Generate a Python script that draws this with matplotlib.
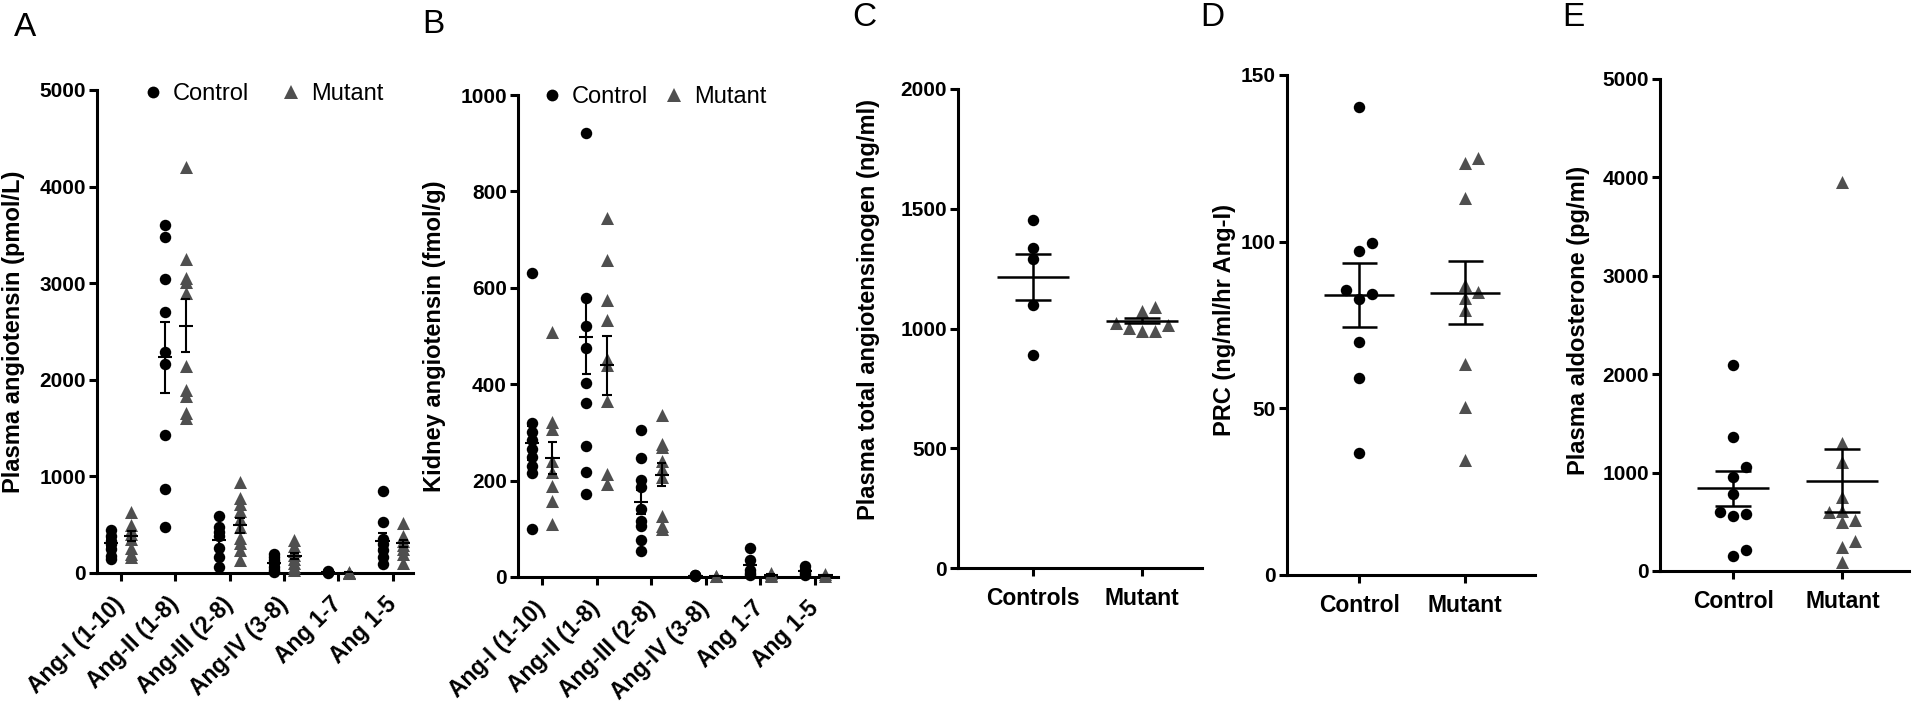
import numpy as np
import matplotlib
matplotlib.use("Agg")
import matplotlib.pyplot as plt
from matplotlib.lines import Line2D

plt.rcParams['font.family'] = ['Liberation Sans', 'DejaVu Sans']

# ---------------- data ----------------
groups_ab = ["Ang-I (1-10)", "Ang-II (1-8)", "Ang-III (2-8)", "Ang-IV (3-8)", "Ang 1-7", "Ang 1-5"]

a_control = [
    [450, 380, 330, 300, 250, 180, 150],
    [3603, 3483, 3045, 2700, 2283, 2166, 1424, 869, 476],
    [590, 480, 420, 380, 260, 170, 60],
    [200, 170, 130, 100, 60, 30, 10],
    [20, 10, 5, 15],
    [850, 530, 350, 300, 240, 170, 90],
]
a_mutant = [
    [630, 500, 450, 400, 350, 260, 200, 170],
    [4200, 3248, 3052, 3017, 2897, 2145, 1897, 1828, 1655, 1603],
    [937, 781, 712, 642, 556, 479, 365, 312, 243, 139],
    [340, 280, 230, 190, 150, 100, 60, 30],
    [5, 10, 3],
    [520, 380, 330, 290, 250, 200, 100],
]
a_control_mean = [310, 2231, 340, 100, 10, 330]
a_control_sem = [40, 367, 70, 25, 3, 80]
a_mutant_mean = [382, 2562, 493, 174, 5, 306]
a_mutant_sem = [50, 270, 80, 30, 2, 40]

b_control = [
    [630, 320, 300, 285, 265, 250, 230, 215, 100],
    [922, 579, 520, 475, 402, 362, 271, 217, 172],
    [305, 246, 201, 186, 141, 116, 106, 76, 53],
    [5, 3, 2, 4],
    [60, 35, 15, 8, 5],
    [22, 14, 8, 4],
]
b_mutant = [
    [508, 321, 307, 241, 217, 189, 157, 109],
    [744, 658, 574, 534, 453, 439, 365, 213, 193],
    [337, 276, 269, 241, 224, 207, 127, 106, 99],
    [3, 2],
    [8, 5, 3],
    [6, 3],
]
b_control_mean = [278, 497, 155, 3, 25, 12]
b_control_sem = [35, 75, 25, 1, 10, 4]
b_mutant_mean = [247, 439, 212, 2, 5, 4]
b_mutant_sem = [34, 62, 24, 1, 2, 1]

c_labels = ["Controls", "Mutant"]
c_control = [1454, 1336, 1290, 1099, 891]
c_mutant = [1090, 1072, 1023, 1016, 1002, 988, 988]
c_mean = [1214, 1033]
c_sem = [97, 12]

d_labels = ["Control", "Mutant"]
d_control = [140.5, 99.5, 97.2, 85.5, 84.2, 82.7, 69.8, 59.2, 36.5]
d_mutant = [125.2, 123.7, 113, 87, 85, 83, 79.5, 63.3, 50.5, 34.5]
d_mean = [84, 84.7]
d_sem = [9.6, 9.5]

e_labels = ["Control", "Mutant"]
e_control = [2095, 1366, 1061, 959, 783, 603, 580, 559, 214, 153]
e_mutant = [3949, 1305, 1112, 756, 614, 603, 519, 502, 308, 241, 95]
e_mean = [841, 919]
e_sem = [180, 322]

# ---------------- style ----------------
W, H = 1920, 706
CTRL_COLOR = 'black'
MUT_COLOR = '#4f4f4f'
S_CIRC = 68
S_TRI = 88
SPINE_W = 2.2
TICK_FS = 15
LABEL_FS = 17
XROT_FS = 16.5

fig = plt.figure(figsize=(W / 100, H / 100), dpi=100)


def add_axes_px(x0, x1, ytop, ybot):
    return fig.add_axes([x0 / W, 1 - ybot / H, (x1 - x0) / W, (ybot - ytop) / H])


def style(ax, ylim, yticks):
    for s in ('top', 'right'):
        ax.spines[s].set_visible(False)
    for s in ('left', 'bottom'):
        ax.spines[s].set_linewidth(SPINE_W)
    ax.set_ylim(*ylim)
    ax.set_yticks(yticks)
    ax.set_yticklabels([str(t) for t in yticks], fontweight='bold', fontsize=TICK_FS)
    ax.tick_params(width=SPINE_W, length=6, direction='out', pad=2)


def ylabel(ax, text, dist_px, yfrac=0.5):
    wpx = ax.get_position().width * W
    ax.set_ylabel(text, fontweight='bold', fontsize=LABEL_FS, va='center')
    ax.yaxis.set_label_coords(-dist_px / wpx, yfrac)


def mean_sem(ax, x, mean, sem, half_mean, half_cap, lw):
    ax.hlines(mean, x - half_mean, x + half_mean, colors='k', lw=lw, zorder=5)
    ax.vlines(x, mean - sem, mean + sem, colors='k', lw=lw, zorder=5)
    ax.hlines([mean - sem, mean + sem], x - half_cap, x + half_cap, colors='k', lw=lw, zorder=5)


def swarm(ax, x0, values, diam=10.5, step=13.0):
    vals = np.asarray(values, dtype=float)
    pts = ax.transData.transform(np.column_stack([np.full(len(vals), x0), vals]))
    ys = pts[:, 1]
    xpx0 = pts[0, 0]
    order = np.argsort(ys)
    placed = []
    offs = np.zeros(len(vals))
    cands = [0.0]
    for j in range(1, 15):
        cands += [j * step, -j * step]
    for i in order:
        chosen = cands[-1]
        for c in cands:
            if all((c - px) ** 2 + (ys[i] - py) ** 2 >= diam ** 2 for px, py in placed):
                chosen = c
                break
        offs[i] = chosen
        placed.append((chosen, ys[i]))
    xs = ax.transData.inverted().transform(np.column_stack([xpx0 + offs, ys]))[:, 0]
    return xs


def grouped_panel(ax, ctrl, mut, cm, cs, mm, msem, ylim, yticks, xlim):
    style(ax, ylim, yticks)
    ax.set_xlim(*xlim)
    off = 0.19
    for i in range(len(groups_ab)):
        ax.scatter(np.full(len(ctrl[i]), i - off), ctrl[i], s=S_CIRC, marker='o',
                   color=CTRL_COLOR, linewidths=0, zorder=4, clip_on=False)
        ax.scatter(np.full(len(mut[i]), i + off), mut[i], s=S_TRI, marker='^',
                   color=MUT_COLOR, linewidths=0, zorder=4, clip_on=False)
        mean_sem(ax, i - off, cm[i], cs[i], 0.13, 0.085, 1.5)
        mean_sem(ax, i + off, mm[i], msem[i], 0.13, 0.085, 1.5)
    ax.set_xticks(range(len(groups_ab)))
    ax.set_xticklabels(groups_ab, rotation=45, ha='right', va='center',
                       rotation_mode='anchor', fontweight='bold', fontsize=XROT_FS)
    ax.tick_params(axis='x', pad=14)


def legend(ax, xfrac, yfrac, colspace):
    handles = [Line2D([], [], ls='', marker='o', color=CTRL_COLOR, markersize=8.5, markeredgewidth=0),
               Line2D([], [], ls='', marker='^', color=MUT_COLOR, markersize=9.5, markeredgewidth=0)]
    ax.legend(handles, ['Control', 'Mutant'], ncol=2, frameon=False, loc='center left',
              bbox_to_anchor=(xfrac, yfrac), borderpad=0, borderaxespad=0,
              handlelength=1.0, handletextpad=0.35, columnspacing=colspace,
              prop={'size': 17})


def two_group_panel(ax, labels, ctrl, mut, mean, sem, ylim, yticks, xlim):
    style(ax, ylim, yticks)
    ax.set_xlim(*xlim)
    xc = swarm(ax, 0, ctrl)
    xm = swarm(ax, 1, mut)
    ax.scatter(xc, ctrl, s=S_CIRC, marker='o', color=CTRL_COLOR, linewidths=0, zorder=4, clip_on=False)
    ax.scatter(xm, mut, s=S_TRI, marker='^', color=MUT_COLOR, linewidths=0, zorder=4, clip_on=False)
    for i in range(2):
        mean_sem(ax, i, mean[i], sem[i], 0.33, 0.165, 1.8)
    ax.set_xticks([0, 1])
    ax.set_xticklabels(labels, fontweight='bold', fontsize=16.5)
    ax.tick_params(axis='x', pad=8)


# Panel A
axA = add_axes_px(97, 413, 90, 573)
grouped_panel(axA, a_control, a_mutant, a_control_mean, a_control_sem, a_mutant_mean, a_mutant_sem,
              (0, 5000), [0, 1000, 2000, 3000, 4000, 5000], (-0.44, 5.37))
ylabel(axA, 'Plasma angiotensin (pmol/L)', 83)
legend(axA, 0.139, 0.992, 1.27)

# Panel B
axB = add_axes_px(518, 838, 95, 577)
grouped_panel(axB, b_control, b_mutant, b_control_mean, b_control_sem, b_mutant_mean, b_mutant_sem,
              (0, 1000), [0, 200, 400, 600, 800, 1000], (-0.44, 5.42))
ylabel(axB, 'Kidney angiotensin (fmol/g)', 83)
legend(axB, 0.069, 0.996, 0.6)

# Panel C
axC = add_axes_px(958, 1202, 89, 568)
two_group_panel(axC, c_labels, c_control, c_mutant, c_mean, c_sem,
                (0, 2000), [0, 500, 1000, 1500, 2000], (-0.69, 1.55))
ylabel(axC, 'Plasma total angiotensinogen (ng/ml)', 89, 0.54)

# Panel D
axD = add_axes_px(1287, 1535, 75, 575)
two_group_panel(axD, d_labels, d_control, d_mutant, d_mean, d_sem,
                (0, 150), [0, 50, 100, 150], (-0.68, 1.66))
ylabel(axD, 'PRC (ng/ml/hr Ang-I)', 62, 0.51)

# Panel E
axE = add_axes_px(1660, 1909, 79, 571)
two_group_panel(axE, e_labels, e_control, e_mutant, e_mean, e_sem,
                (0, 5000), [0, 1000, 2000, 3000, 4000, 5000], (-0.67, 1.61))
ylabel(axE, 'Plasma aldosterone (pg/ml)', 82, 0.51)

# Panel letters
for letter, xpx, ypx in [('A', 14, 12), ('B', 422, 9), ('C', 852, 2), ('D', 1200, 2), ('E', 1562, 2)]:
    fig.text(xpx / W, 1 - ypx / H, letter, fontsize=24, ha='left', va='top')

fig.savefig('out.png', dpi=100)
